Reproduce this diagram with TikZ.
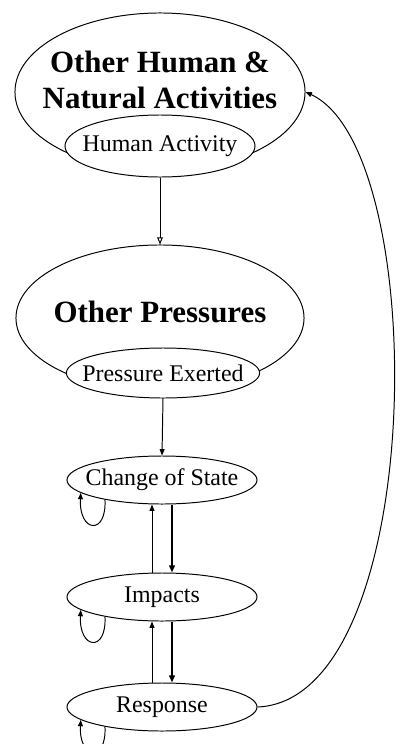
\documentclass[tikz,border=0pt]{standalone}
\usepackage{fontspec}
\setmainfont{Liberation Serif}
\usetikzlibrary{arrows.meta,shapes.geometric,positioning}

\begin{document}
\begin{tikzpicture}[
  x=0.025cm, y=-0.025cm,
  oval/.style={draw, ellipse, line width=0.7pt, inner xsep=-0.6cm, inner ysep=0pt,
    fill=white, font=\fontsize{17}{20}\selectfont},
  small/.style={oval, minimum width=4.75cm, minimum height=1.2cm},
  head/.style={align=center, font=\fontsize{22}{25}\selectfont\bfseries},
  thinarr/.style={line width=0.7pt, -{Triangle[length=4.5pt,width=3.5pt]}},
  thickarr/.style={line width=1.4pt, -{Triangle[length=5pt,width=4pt]}},
  selfloop/.style={line width=0.7pt, -{Triangle[length=4.5pt,width=3.5pt]}},
]
\useasboundingbox (0,0) rectangle (404,744);
\node[oval, minimum width=7.25cm, minimum height=3.95cm] (acts) at (160,92) {};
\node[oval, minimum width=4.75cm, minimum height=1.55cm] (hum) at (160,146) {Human Activity};
\node[head] (actsT) at (160,80) {Other Human \&\\Natural Activities};
\node[oval, minimum width=7.2cm, minimum height=3.65cm] (pres) at (160,318) {};
\node[oval, minimum width=4.83cm, minimum height=1.25cm] (pex) at (163,373) {Pressure Exerted};
\node[head] (presT) at (160,312) {Other Pressures};
\node[small] (cs) at (162,480) {Change of State};
\node[small] (imp) at (162,597) {Impacts};
\node[small] (resp) at (162,707) {Response};
% downward chain
\draw[line width=0.7pt, -{Triangle[open,length=5pt,width=4pt]}] (hum.south) -- (pres.north);
\draw[thinarr] (pex.south) -- (cs.north);
\draw[thinarr] ([xshift=-0.25cm]imp.north) -- ([xshift=-0.25cm]cs.south);
\draw[thickarr] ([xshift=0.25cm]cs.south) -- ([xshift=0.25cm]imp.north);
\draw[thinarr] ([xshift=-0.25cm]resp.north) -- ([xshift=-0.25cm]imp.south);
\draw[thickarr] ([xshift=0.25cm]imp.south) -- ([xshift=0.25cm]resp.north);
% self loops
\foreach \n in {cs,imp,resp}
  \draw[selfloop] (\n.-161) .. controls +(2,36) and +(-2,40) .. (\n.-171);
% feedback
\draw[thinarr] (resp.east) .. controls (428,700) and (432,150) .. (acts.east);
\end{tikzpicture}
\end{document}
